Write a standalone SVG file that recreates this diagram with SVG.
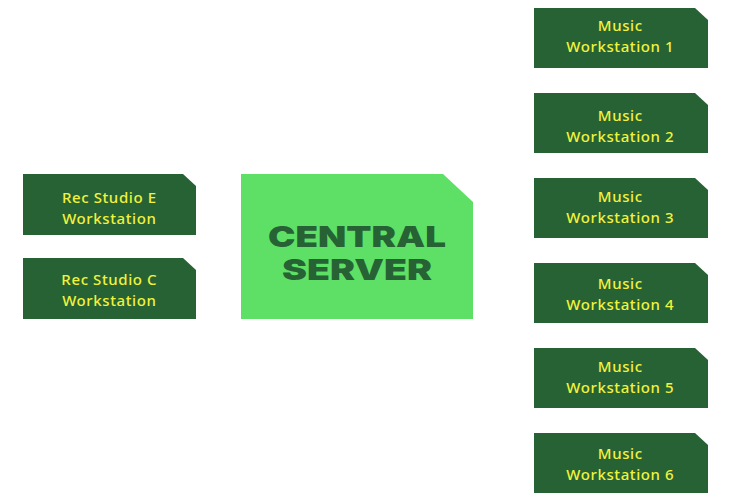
<svg xmlns="http://www.w3.org/2000/svg" width="730" height="500" viewBox="0 0 730 500">
<style>
.n{fill:#276235}
.t{fill:#f2f23c;font-family:"Noto Sans","Open Sans",sans-serif;font-size:15px;letter-spacing:0.6px;font-weight:500;text-anchor:middle}
.c{fill:#276235;font-family:Inter,"DejaVu Sans",sans-serif;font-size:29px;font-weight:900;text-anchor:middle}
</style>
<rect width="730" height="500" fill="#ffffff"/>
<g id="connectors"></g>
<g id="central-server">
<path d="M241,174 H443 L473,202 V319 H241 Z" fill="#5ee066"/>
<text class="c" x="357" y="247" textLength="178" lengthAdjust="spacingAndGlyphs">CENTRAL</text>
<text class="c" x="357" y="280" textLength="150" lengthAdjust="spacingAndGlyphs">SERVER</text>
</g>
<g id="rec-studio-e">
<path class="n" d="M23,174 H183 L196,186 V235 H23 Z"/>
<text class="t"><tspan x="109.3" y="203">Rec Studio E</tspan><tspan x="109.3" y="223.5">Workstation</tspan></text>
</g>
<g id="rec-studio-c">
<path class="n" d="M23,258 H183 L196,270 V319 H23 Z"/>
<text class="t"><tspan x="109.3" y="285">Rec Studio C</tspan><tspan x="109.3" y="305.5">Workstation</tspan></text>
</g>
<g id="music-1">
<path class="n" d="M534,8 H695 L708,20 V68 H534 Z"/>
<text class="t"><tspan x="620.3" y="31">Music</tspan><tspan x="620.3" y="51.5">Workstation 1</tspan></text>
</g>
<g id="music-2">
<path class="n" d="M534,93 H695 L708,105 V153 H534 Z"/>
<text class="t"><tspan x="620.3" y="121">Music</tspan><tspan x="620.3" y="141.5">Workstation 2</tspan></text>
</g>
<g id="music-3">
<path class="n" d="M534,178 H695 L708,190 V238 H534 Z"/>
<text class="t"><tspan x="620.3" y="202">Music</tspan><tspan x="620.3" y="222.5">Workstation 3</tspan></text>
</g>
<g id="music-4">
<path class="n" d="M534,263 H695 L708,275 V323 H534 Z"/>
<text class="t"><tspan x="620.3" y="289">Music</tspan><tspan x="620.3" y="309.5">Workstation 4</tspan></text>
</g>
<g id="music-5">
<path class="n" d="M534,348 H695 L708,360 V408 H534 Z"/>
<text class="t"><tspan x="620.3" y="372">Music</tspan><tspan x="620.3" y="392.5">Workstation 5</tspan></text>
</g>
<g id="music-6">
<path class="n" d="M534,433 H695 L708,445 V493 H534 Z"/>
<text class="t"><tspan x="620.3" y="459">Music</tspan><tspan x="620.3" y="479.5">Workstation 6</tspan></text>
</g>
</svg>
